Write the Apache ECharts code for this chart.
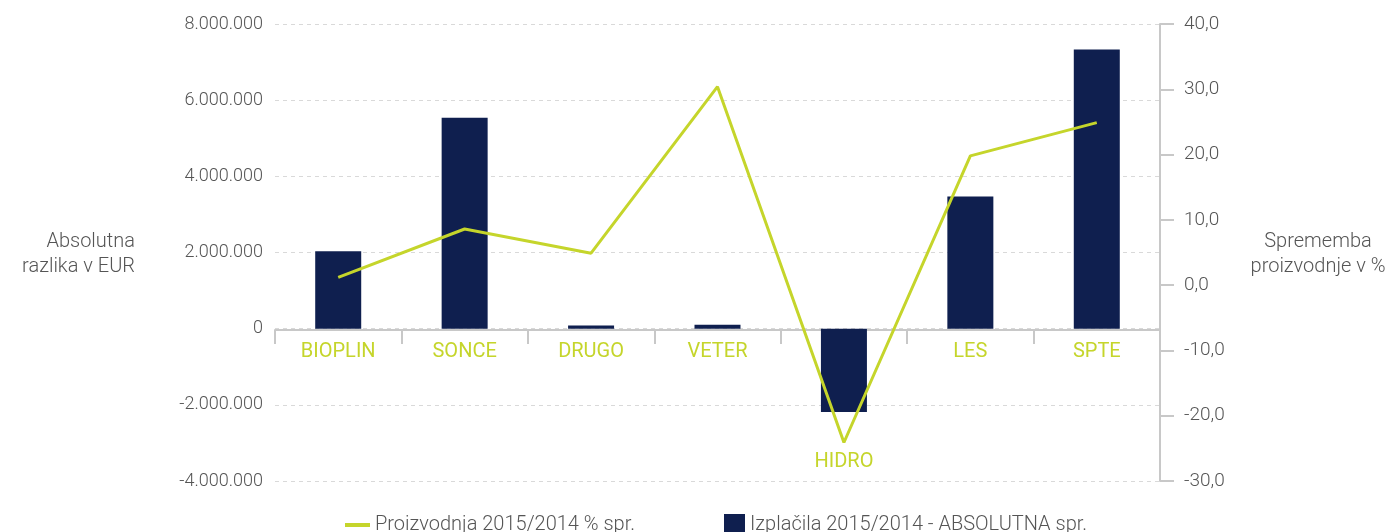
<!DOCTYPE html>
<html>
<head>
<meta charset="utf-8">
<script src="https://cdn.jsdelivr.net/npm/echarts@6/dist/echarts.min.js"></script>
<style>
  html, body { margin: 0; padding: 0; background: #fff; }
  #chart { width: 1396px; height: 532px; }
</style>
</head>
<body>
<div id="chart"></div>
<script>
const categories = ['BIOPLIN', 'SONCE', 'DRUGO', 'VETER', 'HIDRO', 'LES', 'SPTE'];
const payoutDiff = [2030000, 5540000, 80000, 100000, -2190000, 3470000, 7330000];
const productionChange = [1.2, 8.6, 4.9, 30.4, -24.1, 19.8, 24.9];
const lineName = 'Proizvodnja 2015/2014 % spr.';
const barName = 'Izplačila 2015/2014 - ABSOLUTNA spr.';

const font = 'Roboto';
const grey = '#555555';
const lime = '#c5d52b';
const navy = '#0f1f4f';

const fmtEur = v => v.toLocaleString('de-DE');
const fmtPct = v => v.toFixed(1).replace('.', ',');

echarts.init(document.getElementById('chart')).setOption({
    animation: false,
    textStyle: { fontFamily: font },
    grid: { left: 275, right: 236, top: 24, bottom: 51, outerBoundsMode: 'none' },
    legend: [{
        data: [lineName],
        left: 340,
        top: 510,
        icon: 'rect',
        itemWidth: 25,
        itemHeight: 4,
        textStyle: { color: grey, fontSize: 20, fontWeight: 300 }
    }, {
        data: [barName],
        left: 719,
        top: 509,
        icon: 'rect',
        itemWidth: 21,
        itemHeight: 21,
        textStyle: { color: grey, fontSize: 20, fontWeight: 300 }
    }],
    graphic: [{
        type: 'text',
        style: {
            x: 135,
            y: 229,
            text: 'Absolutna\nrazlika v EUR',
            align: 'right',
            verticalAlign: 'top',
            fill: grey,
            font: '300 20px Roboto',
            lineHeight: 25
        }
    }, {
        type: 'text',
        style: {
            x: 1318,
            y: 229,
            text: 'Sprememba\nproizvodnje v %',
            align: 'center',
            verticalAlign: 'top',
            fill: grey,
            font: '300 20px Roboto',
            lineHeight: 25
        }
    }],
    xAxis: {
        type: 'category',
        data: categories,
        offset: -151,
        axisLine: { onZero: false, lineStyle: { color: '#c8c8c8', width: 2 } },
        axisTick: {
            show: true,
            length: 14,
            lineStyle: { color: '#c8c8c8', width: 2 }
        },
        axisLabel: {
            color: lime,
            fontSize: 20,
            margin: 12,
            // HIDRO sits below its negative bar in the original
            formatter: v => v === 'HIDRO' ? '{h|' + v + '}' : v,
            rich: { h: { color: lime, fontSize: 20, padding: [110, 0, 0, 0] } }
        }
    },
    yAxis: [{
        type: 'value',
        min: -4000000,
        max: 8000000,
        interval: 2000000,
        axisLine: { show: false },
        axisTick: { show: false },
        axisLabel: { color: grey, fontSize: 18, fontWeight: 300, margin: 12, formatter: fmtEur },
        splitLine: { lineStyle: { color: '#d9d9d9', type: [4, 4] } }
    }, {
        type: 'value',
        min: -30,
        max: 40,
        interval: 10,
        position: 'right',
        axisLine: { show: true, lineStyle: { color: '#c8c8c8', width: 2 } },
        axisTick: { show: true, length: 14, lineStyle: { color: '#c8c8c8', width: 2 } },
        axisLabel: { color: grey, fontSize: 19, fontWeight: 300, margin: 24, formatter: fmtPct },
        splitLine: { show: false }
    }],
    series: [{
        name: barName,
        type: 'bar',
        data: payoutDiff,
        yAxisIndex: 0,
        barWidth: 46,
        itemStyle: { color: navy }
    }, {
        name: lineName,
        type: 'line',
        data: productionChange,
        yAxisIndex: 1,
        symbol: 'none',
        z: 5,
        lineStyle: { color: lime, width: 3 },
        itemStyle: { color: lime }
    }]
});
</script>
</body>
</html>
